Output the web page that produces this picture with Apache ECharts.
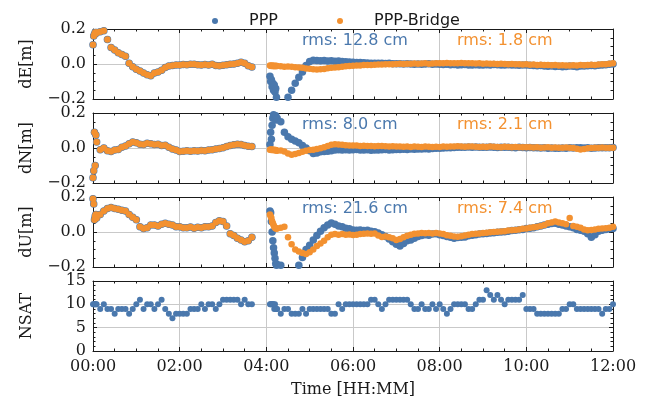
<!DOCTYPE html>
<html><head><meta charset="utf-8">
<script src="https://cdn.jsdelivr.net/npm/echarts/dist/echarts.min.js"></script>
<style>html,body{margin:0;padding:0;background:#fff}#c{width:649px;height:402px}</style>
</head><body><div id="c"></div>
<script>
// ---- sampling times (minutes since 00:00) ----
function stepRange(a, b, s) { const r = []; for (let v = a; v <= b; v += s) r.push(v); return r; }
const timesSeg1 = [0, 1, 2, 3, 4].concat(stepRange(5, 220, 5));              // 49
const timesSeg2 = stepRange(245, 254, 1).concat(stepRange(255, 720, 5));      // 104

// ---- segment 1 (PPP and PPP-Bridge identical) ----
const seg1_dE = [0.11,0.16,0.17,0.18,0.175,
  0.18,0.185,0.19,0.14,0.095,0.08,0.065,0.055,0.045,0.005,-0.015,
  -0.03,-0.04,-0.052,-0.062,-0.067,-0.052,-0.045,-0.035,-0.02,-0.012,-0.008,-0.006,
  -0.005,-0.003,-0.004,-0.002,-0.001,-0.004,-0.006,-0.003,-0.005,-0.002,-0.008,-0.01,
  -0.007,-0.004,-0.002,0.0,0.004,0.01,0.005,-0.01,-0.017];
const seg1_dN = [-0.17,-0.13,0.09,-0.1,0.075,
  0.035,-0.01,0.0,-0.015,-0.02,-0.012,-0.008,0.005,0.012,0.025,0.035,
  0.03,0.022,0.02,0.027,0.024,0.02,0.022,0.015,0.016,0.005,-0.006,-0.012,
  -0.02,-0.018,-0.016,-0.018,-0.015,-0.017,-0.014,-0.015,-0.012,-0.01,-0.006,-0.003,
  0.002,0.008,0.015,0.018,0.022,0.02,0.015,0.01,0.008];
const seg1_dU = [0.19,0.16,0.07,0.09,0.1,
  0.08,0.1,0.12,0.135,0.14,0.135,0.13,0.125,0.12,0.1,0.085,
  0.07,0.03,0.02,0.025,0.04,0.04,0.035,0.045,0.05,0.045,0.04,0.03,
  0.03,0.025,0.025,0.028,0.022,0.027,0.025,0.03,0.03,0.035,0.055,0.065,
  0.06,0.035,-0.01,-0.02,-0.035,-0.045,-0.055,-0.05,-0.03];
const seg1_nsat = [10,10,10,10,10,
  10,9,10,9,9,8,9,9,9,8,9,
  10,11,9,10,10,9,10,11,9,8,7,8,
  8,8,8,9,9,9,10,9,10,10,9,10,
  11,11,11,11,11,10,11,10,10];

// ---- segment 2 ----
const ppp_dE_seg2 = [-0.07,-0.1,-0.09,-0.13,-0.11,-0.15,-0.12,-0.16,-0.14,-0.19,
  -0.21,-0.25,-0.24,-0.19,-0.15,-0.11,-0.075,-0.045,-0.008,
  0.015,0.022,0.02,0.018,0.02,0.017,0.018,0.016,0.017,0.014,0.013,0.012,
  0.01,0.009,0.008,0.007,0.006,0.005,0.004,0.005,0.004,0.003,0.004,0.002,
  0.002,0.001,0.0,0.001,0.0,-0.001,0.0,-0.002,0.0,0.001,-0.001,0.0,
  -0.002,-0.003,-0.002,-0.004,-0.003,-0.005,-0.004,-0.003,-0.005,-0.006,-0.004,-0.005,
  -0.006,-0.004,-0.005,-0.003,-0.004,-0.006,-0.005,-0.004,-0.006,-0.005,-0.007,-0.006,
  -0.005,-0.007,-0.008,-0.01,-0.009,-0.011,-0.013,-0.012,-0.014,-0.013,-0.015,-0.014,
  -0.012,-0.013,-0.015,-0.012,-0.011,-0.01,-0.008,-0.01,-0.007,-0.006,-0.004,-0.002,
  0.0];
const bridge_dE_seg2 = [-0.008,-0.01,-0.012,-0.009,-0.011,-0.01,-0.013,-0.01,-0.012,-0.011,
  -0.012,-0.013,-0.015,-0.014,-0.016,-0.018,-0.02,-0.022,-0.025,
  -0.027,-0.03,-0.032,-0.03,-0.028,-0.024,-0.022,-0.02,-0.018,-0.015,-0.013,-0.012,
  -0.01,-0.009,-0.008,-0.006,-0.005,-0.005,-0.004,-0.003,-0.003,-0.002,-0.001,-0.001,
  0.0,0.001,0.0,0.002,0.001,0.003,0.002,0.003,0.004,0.002,0.003,0.004,
  0.005,0.004,0.006,0.005,0.004,0.005,0.006,0.004,0.005,0.004,0.003,0.004,
  0.002,0.003,0.001,0.002,0.0,0.001,0.0,-0.001,0.0,-0.002,-0.001,-0.003,
  -0.002,-0.004,-0.003,-0.005,-0.004,-0.006,-0.005,-0.007,-0.006,-0.008,-0.007,-0.009,
  -0.008,-0.007,-0.009,-0.006,-0.007,-0.005,-0.004,-0.005,-0.003,-0.002,-0.001,0.002,
  0.004];
const ppp_dN_seg2 = [0.02,0.09,0.05,0.13,0.17,0.19,0.18,0.17,0.185,0.16,
  0.17,0.15,0.09,0.065,0.05,0.04,0.03,0.015,0.0,
  -0.015,-0.032,-0.028,-0.022,-0.02,-0.018,-0.015,-0.012,-0.01,-0.012,-0.01,-0.011,
  -0.01,-0.009,-0.011,-0.012,-0.01,-0.013,-0.011,-0.012,-0.01,-0.009,-0.011,-0.01,
  -0.008,-0.009,-0.007,-0.008,-0.006,-0.007,-0.005,-0.006,-0.004,-0.005,-0.003,-0.002,
  -0.001,0.0,0.001,0.002,0.003,0.004,0.005,0.004,0.006,0.005,0.006,0.004,
  0.005,0.004,0.006,0.005,0.003,0.004,0.005,0.004,0.003,0.002,0.004,0.003,
  0.002,0.003,0.001,0.002,0.0,0.001,-0.001,0.0,-0.002,-0.001,0.0,-0.001,
  0.001,0.0,0.002,0.001,0.0,0.001,-0.001,0.0,0.001,0.002,0.001,0.002,
  0.003];
const bridge_dN_seg2 = [-0.01,-0.008,-0.012,-0.009,-0.011,-0.01,-0.013,-0.011,-0.012,-0.014,
  -0.015,-0.014,-0.02,-0.032,-0.038,-0.034,-0.028,-0.022,-0.015,
  -0.012,-0.01,-0.006,-0.002,0.004,0.012,0.018,0.022,0.02,0.018,0.016,0.015,
  0.014,0.015,0.012,0.013,0.011,0.012,0.01,0.011,0.012,0.01,0.009,0.01,
  0.008,0.009,0.007,0.008,0.006,0.008,0.007,0.006,0.008,0.007,0.006,0.007,
  0.006,0.008,0.007,0.009,0.008,0.01,0.008,0.007,0.009,0.008,0.007,0.006,
  0.007,0.006,0.008,0.007,0.006,0.005,0.007,0.006,0.005,0.006,0.004,0.005,
  0.004,0.005,0.003,0.004,0.002,0.003,0.004,0.002,0.003,0.001,0.002,0.003,
  0.002,0.0,-0.004,-0.008,-0.006,-0.002,0.0,0.002,0.001,0.003,0.002,0.001,
  0.002];
const ppp_dU_seg2 = [0.12,0.11,0.06,0.0,-0.05,-0.09,-0.12,-0.15,-0.18,-0.19,
  -0.185,-0.19,-0.21,-0.23,-0.24,-0.22,-0.19,-0.145,-0.1,
  -0.075,-0.045,-0.02,0.005,0.025,0.04,0.052,0.045,0.035,0.03,0.022,0.018,
  0.012,0.01,0.012,0.008,0.01,0.005,0.002,-0.005,-0.015,-0.025,-0.04,-0.055,
  -0.07,-0.08,-0.065,-0.05,-0.045,-0.035,-0.025,-0.02,-0.015,-0.018,-0.012,-0.01,
  -0.015,-0.02,-0.025,-0.03,-0.035,-0.032,-0.03,-0.028,-0.022,-0.018,-0.015,-0.012,
  -0.01,-0.008,-0.005,-0.004,-0.002,0.0,0.002,0.005,0.008,0.01,0.013,0.015,
  0.02,0.022,0.025,0.03,0.035,0.04,0.045,0.048,0.05,0.045,0.04,0.035,
  0.03,0.025,0.015,0.01,0.005,-0.01,-0.03,-0.015,0.005,0.01,0.015,0.018,
  0.02];
const bridge_dU_seg2 = [0.1,0.09,0.08,0.06,0.05,0.04,0.03,0.025,0.02,0.02,
  0.02,0.025,0.03,-0.03,-0.07,-0.1,-0.112,-0.12,-0.125,
  -0.115,-0.1,-0.08,-0.065,-0.05,-0.03,-0.015,-0.012,-0.015,-0.012,-0.016,-0.014,
  -0.017,-0.015,-0.012,-0.01,-0.008,-0.01,-0.008,-0.02,-0.028,-0.025,-0.03,-0.035,
  -0.045,-0.04,-0.03,-0.022,-0.015,-0.01,-0.008,-0.005,-0.007,-0.005,-0.008,-0.006,
  -0.008,-0.012,-0.018,-0.022,-0.025,-0.027,-0.024,-0.02,-0.016,-0.012,-0.01,-0.008,
  -0.006,-0.004,-0.002,0.0,0.001,0.003,0.005,0.008,0.01,0.012,0.015,0.018,
  0.02,0.024,0.027,0.03,0.035,0.04,0.05,0.055,0.06,0.055,0.05,0.045,
  0.08,0.035,0.03,0.025,0.015,0.01,0.012,0.015,0.018,0.02,0.022,0.025,
  0.03];
const nsat_seg2 = [10,10,10,10,10,10,9,10,9,9,
  9,8,9,9,8,8,8,9,8,
  9,9,9,9,9,9,8,8,10,9,10,10,
  10,10,10,10,10,11,11,10,9,10,11,11,
  11,11,11,11,10,9,9,10,9,9,10,9,
  10,9,8,9,10,10,10,10,9,9,10,11,
  11,13,12,11,12,11,10,11,11,11,11,12,
  9,9,9,8,8,8,8,8,8,8,9,9,
  10,10,9,9,9,9,9,9,9,8,9,9,
  10];

const panelNames = ['dE[m]', 'dN[m]', 'dU[m]'];
const rmsPPP = ['12.8', '8.0', '21.6'];
const rmsBridge = ['1.8', '2.1', '7.4'];

const BLUE = '#4a78ad', ORANGE = '#f39130', INK = '#1a1a1a', GRIDC = '#c9c9c9';
const SERIF = 'DejaVu Serif', SANS = 'DejaVu Sans';

function pairs(t, v) { return t.map((m, i) => [m, v[i]]); }
function pad(n) { return (n < 10 ? '0' : '') + n; }

const seg1 = [seg1_dE, seg1_dN, seg1_dU];
const pppSeg2 = [ppp_dE_seg2, ppp_dN_seg2, ppp_dU_seg2];
const brSeg2 = [bridge_dE_seg2, bridge_dN_seg2, bridge_dU_seg2];

const tops = [29, 113, 197, 281];
const grid = tops.map(t => ({ left: 93, right: 36, top: t, height: 70 }));

const tickCommon = { inside: true, length: 4, lineStyle: { color: INK, width: 1 } };
const minorCommon = { show: true, length: 2.5, lineStyle: { color: INK, width: 1 } };
const lineCommon = { show: true, onZero: false, lineStyle: { color: INK, width: 1 } };

const xAxis = [], yAxis = [];
for (let i = 0; i < 4; i++) {
  xAxis.push({
    gridIndex: i, type: 'value', min: 0, max: 720, interval: 120, position: 'bottom',
    axisLine: lineCommon, axisTick: tickCommon,
    minorTick: Object.assign({ splitNumber: 4 }, minorCommon),
    splitLine: { show: true, lineStyle: { color: GRIDC, width: 1 } },
    axisLabel: {
      show: i === 3, margin: 8, color: INK, fontFamily: SERIF, fontSize: 16,
      formatter: v => pad(Math.floor(v / 60)) + ':' + pad(v % 60)
    },
    name: i === 3 ? 'Time [HH:MM]' : '', nameLocation: 'middle', nameGap: 31,
    nameTextStyle: { fontFamily: SERIF, fontSize: 16, color: INK }
  });
  xAxis.push({
    gridIndex: i, type: 'value', min: 0, max: 720, interval: 120, position: 'top',
    axisLine: lineCommon, axisTick: tickCommon,
    minorTick: Object.assign({ splitNumber: 4 }, minorCommon),
    splitLine: { show: false }, axisLabel: { show: false }
  });
  const isN = i === 3;
  const yBase = {
    gridIndex: i, type: 'value',
    min: isN ? 0 : -0.2, max: isN ? 15 : 0.2, interval: isN ? 5 : 0.2,
    axisLine: lineCommon, axisTick: tickCommon,
    minorTick: Object.assign({ splitNumber: isN ? 5 : 4 }, minorCommon)
  };
  yAxis.push(Object.assign({}, yBase, {
    position: 'left',
    splitLine: { show: true, lineStyle: { color: GRIDC, width: 1 } },
    axisLabel: {
      margin: 7, color: INK, fontFamily: SERIF, fontSize: 16,
      formatter: v => isN ? String(v) : v.toFixed(1).replace('-', '\u2212')
    },
    name: isN ? 'NSAT' : panelNames[i], nameLocation: 'middle', nameGap: 58,
    nameTextStyle: { fontFamily: SERIF, fontSize: 16, color: INK }
  }));
  yAxis.push(Object.assign({}, yBase, {
    position: 'right', splitLine: { show: false }, axisLabel: { show: false }
  }));
}

const series = [];
for (let p = 0; p < 3; p++) {
  series.push({
    name: 'PPP', type: 'scatter', xAxisIndex: 2 * p, yAxisIndex: 2 * p,
    symbolSize: 7.5, itemStyle: { color: BLUE, opacity: 1 },
    data: pairs(timesSeg1, seg1[p]).concat(pairs(timesSeg2, pppSeg2[p]))
  });
}
for (let p = 0; p < 3; p++) {
  series.push({
    name: 'PPP-Bridge', type: 'scatter', xAxisIndex: 2 * p, yAxisIndex: 2 * p,
    symbolSize: 6.5, itemStyle: { color: ORANGE, opacity: 1 },
    data: pairs(timesSeg1, seg1[p]).concat(pairs(timesSeg2, brSeg2[p]))
  });
}
series.push({
  name: 'PPP', type: 'scatter', xAxisIndex: 6, yAxisIndex: 6,
  symbolSize: 6, itemStyle: { color: BLUE, opacity: 1 },
  data: pairs(timesSeg1, seg1_nsat).concat(pairs(timesSeg2, nsat_seg2))
});

const graphic = [];
for (let p = 0; p < 3; p++) {
  graphic.push({ type: 'text', left: 302, top: tops[p] + 4,
    style: { text: 'rms: ' + rmsPPP[p] + ' cm', fill: BLUE, font: '16px "DejaVu Sans"' } });
  graphic.push({ type: 'text', left: 457, top: tops[p] + 4,
    style: { text: 'rms: ' + rmsBridge[p] + ' cm', fill: ORANGE, font: '16px "DejaVu Sans"' } });
}

const legendCommon = { top: 8, itemWidth: 58, itemHeight: 6, icon: 'circle',
  textStyle: { fontFamily: SANS, fontSize: 16, color: INK } };

const chart = echarts.init(document.getElementById('c'), null, { renderer: 'canvas' });
chart.setOption({
  animation: false,
  backgroundColor: '#fff',
  grid, xAxis, yAxis, series, graphic,
  legend: [
    Object.assign({ data: ['PPP'], left: 207 }, legendCommon),
    Object.assign({ data: ['PPP-Bridge'], left: 332 }, legendCommon)
  ]
});
</script></body></html>
